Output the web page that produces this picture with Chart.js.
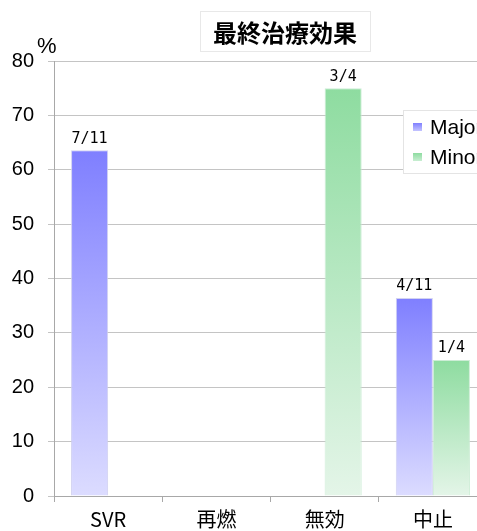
<!DOCTYPE html>
<html>
<head>
<meta charset="utf-8">
<script src="https://cdn.jsdelivr.net/npm/chart.js@4/dist/chart.umd.min.js"></script>
<style>
  html, body { margin: 0; padding: 0; background: #fff; overflow: hidden; }
  #wrap { width: 477px; height: 531px; overflow: hidden; position: relative; }
  #myChart { position: absolute; left: 0; top: 0; }
</style>
</head>
<body>
<div id="wrap"><canvas id="myChart" width="490" height="531"></canvas></div>
<script>
// data
const categories = ["SVR", "再燃", "無効", "中止"];
const seriesNames = ["Major", "Minor"];
const majorValues = [63.6, 0, 0, 36.4];
const minorValues = [0, 0, 75, 25];
const majorLabels = ["7/11", "", "", "4/11"];
const minorLabels = ["", "", "3/4", "1/4"];
const yTicks = [0, 10, 20, 30, 40, 50, 60, 70, 80];

const titleText = "最終治療効果";
const unitText = "%";

// gradient per bar, dark at the top and pale at the base
const barGradient = (top, bottom) => (context) => {
  const chart = context.chart;
  if (!chart.chartArea || context.parsed == null) return top;
  const y = chart.scales.y;
  const yTop = y.getPixelForValue(context.parsed.y);
  const yBase = y.getPixelForValue(0);
  if (yBase - yTop < 1) return top;
  const g = chart.ctx.createLinearGradient(0, yTop, 0, yBase);
  g.addColorStop(0, top);
  g.addColorStop(1, bottom);
  return g;
};

// title box, % sign, labels over bars and the legend box
const decorations = {
  id: "decorations",
  afterDatasetsDraw(chart) {
    const ctx = chart.ctx;
    ctx.save();

    // labels above bars
    const allLabels = [majorLabels, minorLabels];
    ctx.font = "15px 'DejaVu Sans Mono'";
    ctx.fillStyle = "#000";
    ctx.textAlign = "center";
    ctx.textBaseline = "bottom";
    chart.data.datasets.forEach((ds, i) => {
      chart.getDatasetMeta(i).data.forEach((bar, j) => {
        const txt = allLabels[i][j];
        if (txt) ctx.fillText(txt, bar.x, bar.y - 4);
      });
    });

    // legend box at the right edge (cut off by the window)
    ctx.fillStyle = "#fff";
    ctx.fillRect(403, 110, 90, 63);
    ctx.strokeStyle = "#e4e4e4";
    ctx.lineWidth = 1;
    ctx.strokeRect(403.5, 110.5, 90, 63);
    const sw = [["#8080ff", "#c4c4ff"], ["#8edca0", "#c8eed2"]];
    ctx.font = "21px 'Liberation Sans'";
    ctx.textAlign = "left";
    ctx.textBaseline = "middle";
    seriesNames.forEach((name, i) => {
      const cy = 127 + i * 30;
      const g = ctx.createLinearGradient(0, cy - 4, 0, cy + 4);
      g.addColorStop(0, sw[i][0]);
      g.addColorStop(1, sw[i][1]);
      ctx.fillStyle = g;
      ctx.fillRect(413, cy - 4, 9, 8);
      ctx.fillStyle = "#000";
      ctx.fillText(name, 430, cy + 1);
    });
    ctx.restore();
  },
  afterDraw(chart) {
    const ctx = chart.ctx;
    ctx.save();
    // title box
    ctx.strokeStyle = "#e8e8e8";
    ctx.lineWidth = 1;
    ctx.strokeRect(200.5, 11.5, 170, 40);
    ctx.font = "bold 24px 'Noto Sans CJK JP'";
    ctx.fillStyle = "#000";
    ctx.textAlign = "center";
    ctx.textBaseline = "middle";
    ctx.fillText(titleText, 285, 33);
    // unit sign
    ctx.font = "22px 'Liberation Sans'";
    ctx.textAlign = "left";
    ctx.fillText(unitText, 37, 47);
    ctx.restore();
  }
};

const chart = new Chart(document.getElementById("myChart"), {
  type: "bar",
  data: {
    labels: categories,
    datasets: [
      {
        label: seriesNames[0],
        data: majorValues,
        backgroundColor: barGradient("#7f7fff", "#dcdcff"),
        borderColor: "rgba(205,205,240,0.9)",
        borderWidth: 1,
        categoryPercentage: 0.685,
        barPercentage: 1
      },
      {
        label: seriesNames[1],
        data: minorValues,
        backgroundColor: barGradient("#8edca0", "#e4f5e8"),
        borderColor: "rgba(200,235,210,0.9)",
        borderWidth: 1,
        categoryPercentage: 0.685,
        barPercentage: 1
      }
    ]
  },
  options: {
    responsive: false,
    animation: false,
    layout: { padding: { top: 61, right: 3, left: 0, bottom: 0 } },
    plugins: {
      legend: { display: false },
      title: { display: false },
      tooltip: { enabled: false }
    },
    scales: {
      x: {
        grid: {
          offset: true,
          drawOnChartArea: false,
          tickLength: 6,
          color: "#a8a8a8"
        },
        border: { color: "#a8a8a8" },
        ticks: {
          color: "#000",
          font: { family: "'Noto Sans CJK JP'", size: 20 },
          padding: 5
        },
        afterFit: (s) => { s.height = 35; }
      },
      y: {
        min: 0,
        max: 80,
        afterBuildTicks: (s) => { s.ticks = yTicks.map(v => ({ value: v })); },
        grid: { color: "#c4c4c4", tickLength: 6 },
        border: { color: "#a8a8a8" },
        ticks: {
          color: "#000",
          font: { family: "'Liberation Sans'", size: 20 },
          padding: 14
        },
        afterFit: (s) => { s.width = 54; }
      }
    }
  },
  plugins: [decorations]
});
</script>
</body>
</html>
